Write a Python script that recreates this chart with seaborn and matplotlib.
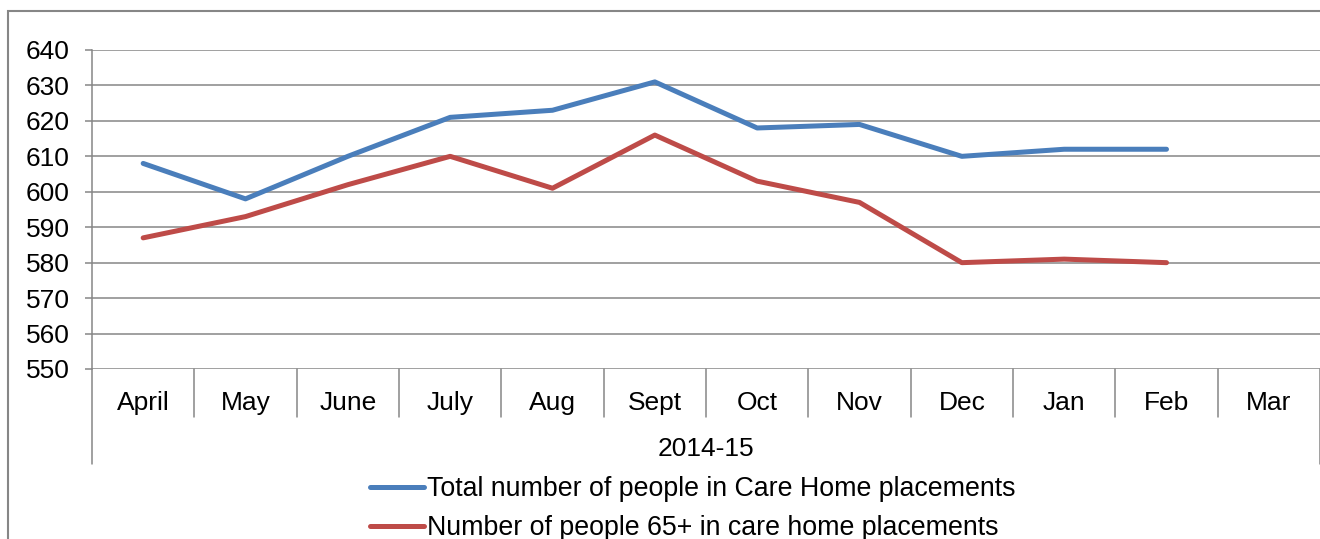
import matplotlib
matplotlib.use("Agg")
import matplotlib.pyplot as plt
from matplotlib.patches import Rectangle
from matplotlib.transforms import blended_transform_factory
import pandas as pd
import seaborn as sns

months = ["April", "May", "June", "July", "Aug", "Sept", "Oct", "Nov", "Dec", "Jan", "Feb", "Mar"]
year_label = "2014-15"
total_label = "Total number of people in Care Home placements"
older_label = "Number of people 65+ in care home placements"
total_values = [608, 598, 610, 621, 623, 631, 618, 619, 610, 612, 612]
older_values = [587, 593, 602, 610, 601, 616, 603, 597, 580, 581, 580]
y_ticks = list(range(550, 641, 10))

BLUE = "#4A7EBB"
RED = "#BE4B48"
GRID = "#868686"

rows = []
for label, vals in ((total_label, total_values), (older_label, older_values)):
    for i, v in enumerate(vals):
        rows.append({"pos": i, "month": months[i], "value": v, "series": label})
df = pd.DataFrame(rows)

sns.set_theme(style="white")
plt.rcParams["font.family"] = ["Liberation Sans", "DejaVu Sans"]
plt.rcParams["text.color"] = "black"

W, H = 1320, 539
fig = plt.figure(figsize=(W / 100, H / 100), dpi=100)
left, right, top, bottom = 92, 1320, 50, 369
ax = fig.add_axes([left / W, 1 - bottom / H, (right - left) / W, (bottom - top) / H])

sns.lineplot(data=df, x="pos", y="value", hue="series", palette=[BLUE, RED],
             linewidth=3.6, ax=ax, sort=False, legend=True)

ax.set_xlim(-0.5, len(months) - 0.5)
ax.set_ylim(y_ticks[0], y_ticks[-1])
ax.set_yticks(y_ticks)
ax.set_xticks([])
ax.set_xlabel("")
ax.set_ylabel("")
ax.yaxis.grid(True, color=GRID, linewidth=1.1)
ax.set_axisbelow(True)
for s in ("top", "right", "bottom"):
    ax.spines[s].set_visible(False)
ax.spines["left"].set_color(GRID)
ax.spines["left"].set_linewidth(1.1)
ax.tick_params(axis="y", which="major", left=True, length=5, width=1.1, color=GRID,
               pad=11, labelsize=19, labelcolor="black")

# category boxes below the plot
tr = blended_transform_factory(ax.transData, ax.transAxes)
ph = bottom - top
inner = -(417 - bottom) / ph
outer = -(464 - bottom) / ph
for k in range(len(months) + 1):
    b = k - 0.5
    end = outer if k in (0, len(months)) else inner
    ax.plot([b, b], [0, end], transform=tr, color=GRID, lw=1.1, clip_on=False)
for i, m in enumerate(months):
    ax.text(i, -(403 - bottom) / ph, m, transform=tr, ha="center", va="center",
            fontsize=19, color="black")
ax.text(0.5, -(449 - bottom) / ph, year_label, transform=ax.transAxes, ha="center",
        va="center", fontsize=19, color="black")

leg = ax.legend(loc="upper left", bbox_to_anchor=(370 / W, 1 - 476 / H),
                bbox_transform=fig.transFigure, frameon=False, borderpad=0,
                borderaxespad=0, fontsize=19.3, handlelength=2.02, handletextpad=0.1,
                labelspacing=0.5, labelcolor="black")
for line in leg.get_lines():
    line.set_linewidth(3.6)

# outer chart frame
fig.add_artist(Rectangle((8 / W, -0.5), 2.0, 1 - 11 / H + 0.5, transform=fig.transFigure,
                         fill=False, edgecolor=GRID, linewidth=1.5))

fig.savefig("out.png", dpi=100, facecolor="white")
